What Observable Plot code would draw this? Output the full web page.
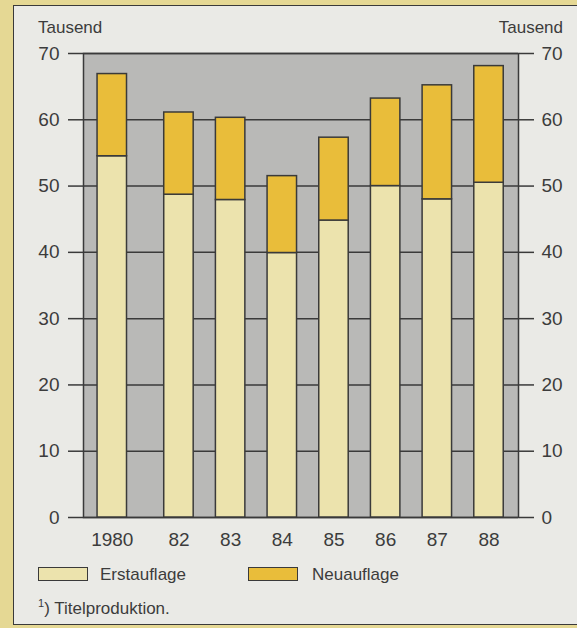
<!DOCTYPE html>
<html>
<head>
<meta charset="utf-8">
<script src="https://cdn.jsdelivr.net/npm/d3@7"></script>
<script src="https://cdn.jsdelivr.net/npm/@observablehq/plot@0.6"></script>
<style>
  html, body { margin: 0; padding: 0; }
  body { width: 577px; height: 628px; overflow: hidden; background: #e5d894; font-family: "Liberation Sans", Arial, sans-serif; color: #3c3c3c; }
  #panel { position: absolute; left: 13px; top: 5px; width: 600px; height: 620px; background: #eaeae6; border: 1.5px solid #3a3a3a; box-sizing: border-box; }
  #chart { position: absolute; left: 0; top: 0; }
  .lbl { position: absolute; font-size: 17px; }
  .sw { position: absolute; width: 48px; height: 12px; border: 1.5px solid #3a3a3a; }
  .leg { position: absolute; font-size: 17px; }
</style>
</head>
<body>
<div id="panel"></div>
<div id="chart"></div>
<div class="lbl" style="left:38px; top:18px;">Tausend</div>
<div class="lbl" style="right:14px; top:18px;">Tausend</div>
<div class="sw" style="left:38px; top:567px; background:#ece3ad;"></div>
<div class="leg" style="left:100px; top:565px;">Erstauflage</div>
<div class="sw" style="left:248px; top:567px; background:#e9bd3a;"></div>
<div class="leg" style="left:312px; top:565px;">Neuauflage</div>
<div class="leg" style="left:38px; top:597px; font-size:17px;"><sup style="font-size:11px;">1</sup>) Titelproduktion.</div>
<script>
const years = ["1980", "82", "83", "84", "85", "86", "87", "88"];
const erstauflage = [54.5, 48.7, 47.9, 39.9, 44.8, 50.0, 48.0, 50.5];
const neuauflage = [12.4, 12.4, 12.4, 11.6, 12.5, 13.2, 17.2, 17.6];
const series = ["Erstauflage", "Neuauflage"];
const seriesColors = ["#ece3ad", "#e9bd3a"];
const yTicks = [0, 10, 20, 30, 40, 50, 60, 70];

const rows = [];
years.forEach((y, i) => {
  rows.push({year: y, series: series[0], value: erstauflage[i]});
  rows.push({year: y, series: series[1], value: neuauflage[i]});
});
const first = rows.filter(d => d.year === years[0]);
const rest = rows.filter(d => d.year !== years[0]);

const barOpts = {x: "year", y: "value", fill: "series", stroke: "#3a3a3a", strokeWidth: 1.5, order: series};

const chart = Plot.plot({
  width: 577,
  height: 560,
  marginLeft: 83,
  marginRight: 59,
  marginTop: 53,
  marginBottom: 43,
  style: {fontFamily: "Liberation Sans, Arial, sans-serif", fontSize: "19px", color: "#3c3c3c", background: "transparent", overflow: "visible"},
  x: {domain: years, paddingInner: 0.43, paddingOuter: 0.424, align: 0.663, round: false, axis: null},
  y: {domain: [0, 70], axis: null},
  color: {domain: series, range: seriesColors},
  marks: [
    Plot.frame({fill: "#b9b9b7", stroke: "none"}),
    Plot.ruleY(yTicks, {stroke: "#3a3a3a", strokeWidth: 1.5}),
    Plot.frame({stroke: "#3a3a3a", strokeWidth: 1.5}),
    Plot.axisY({anchor: "left", ticks: yTicks, tickSize: 15, tickPadding: 9, strokeWidth: 1.5, stroke: "#3a3a3a", label: null, fontSize: 19}),
    Plot.axisY({anchor: "right", ticks: yTicks, tickSize: 15, tickPadding: 8, strokeWidth: 1.5, stroke: "#3a3a3a", label: null, fontSize: 19}),
    Plot.barY(rest, barOpts),
    Plot.barY(first, {...barOpts, dx: -15}),
    Plot.axisX({ticks: years.slice(1), tickSize: 0, tickPadding: 15, label: null, fontSize: 19}),
    Plot.axisX({ticks: years.slice(0, 1), tickSize: 0, tickPadding: 15, label: null, fontSize: 19, dx: -15})
  ]
});
document.getElementById("chart").appendChild(chart);
</script>
</body>
</html>
